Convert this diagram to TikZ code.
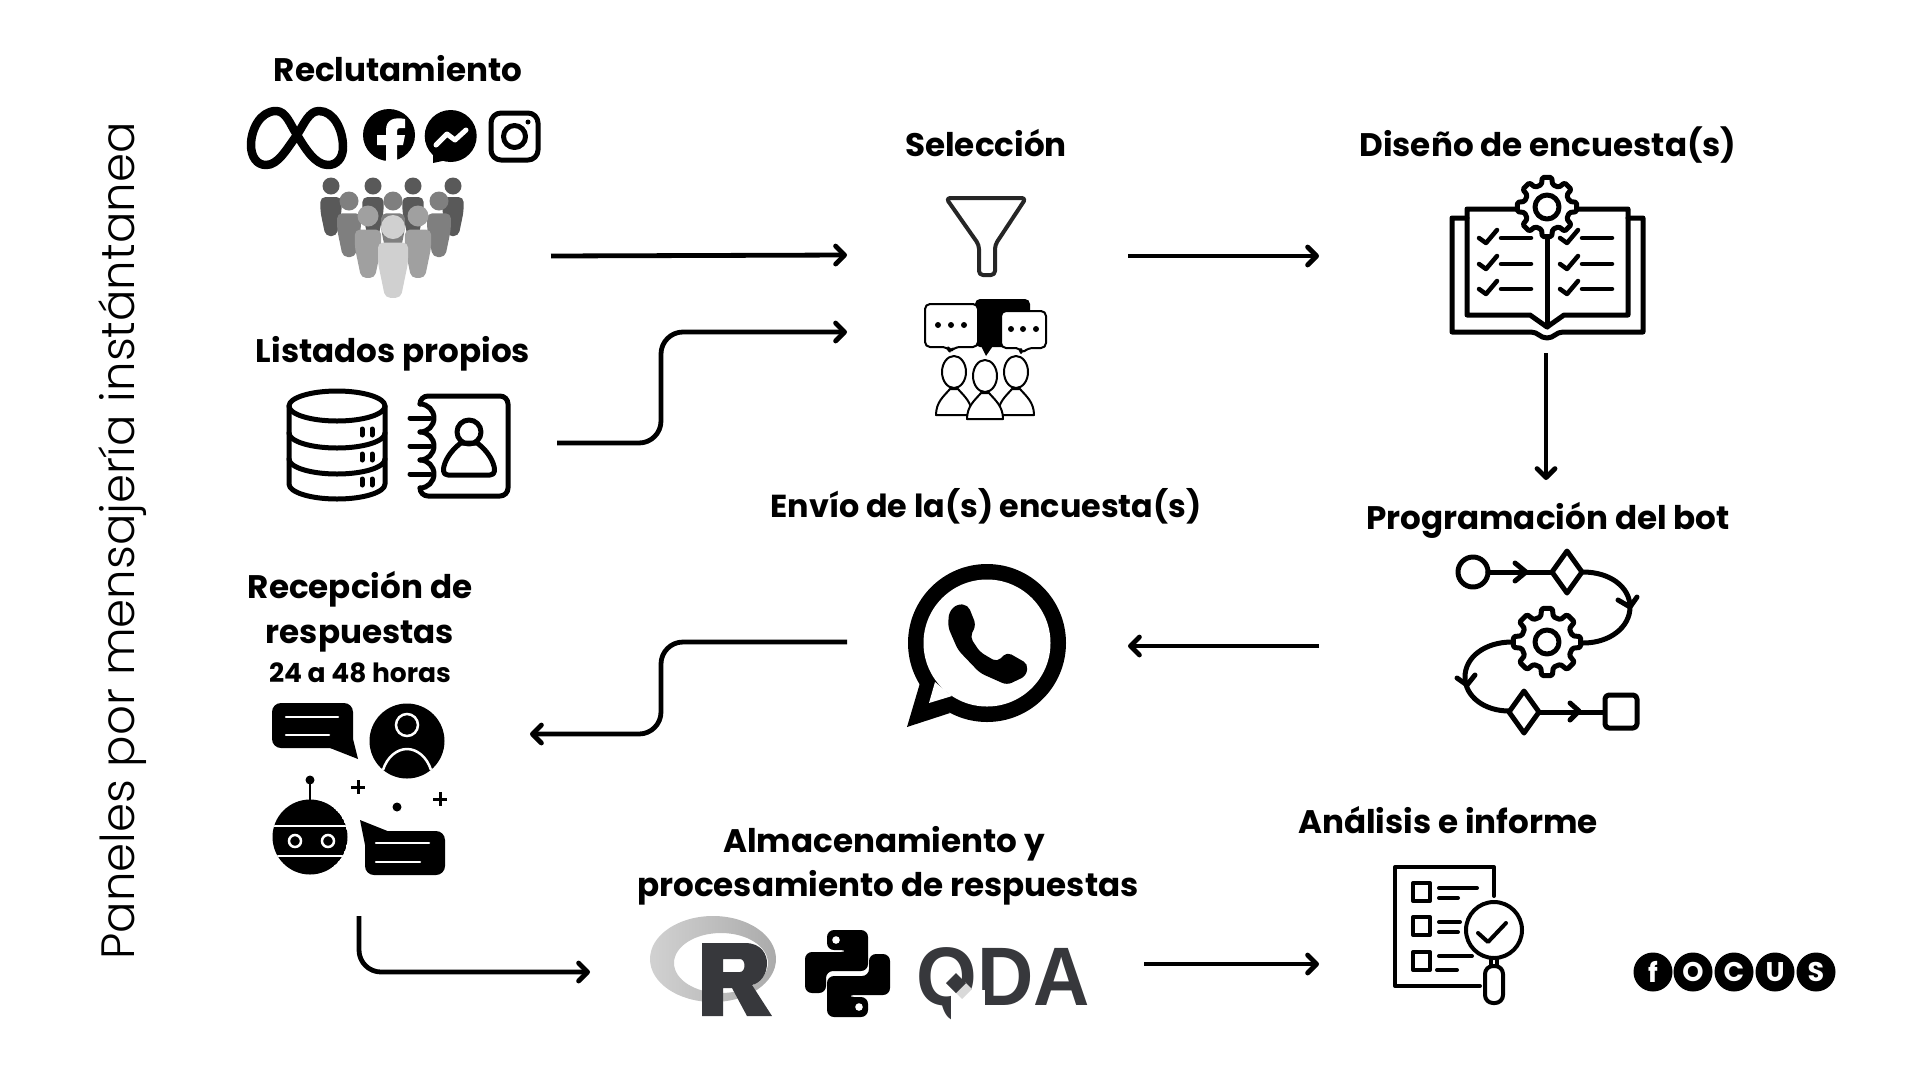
\documentclass[tikz,border=0pt]{standalone}
\usepackage{fontspec}
\setmainfont{Poppins}
\newfontfamily\lightfont{Poppins Light}
\newfontfamily\logofont[FakeStretch=0.94]{Liberation Sans}
\usetikzlibrary{arrows.meta}

\tikzstyle{heading} = [anchor=base, inner sep=0pt, font=\bfseries\fontsize{32.6}{32.6}\selectfont]
\tikzstyle{subheading} = [anchor=base, inner sep=0pt, font=\bfseries\fontsize{26.5}{26.5}\selectfont]
\tikzstyle{flowarrow} = [line width=4.8pt,->,>={Straight Barb[length=9pt,width=18pt,round]}]
\tikzstyle{icon} = [line width=5pt, draw=black, line join=round, line cap=round]
\tikzstyle{thinicon} = [line width=2pt, draw=black, line join=round, fill=white]
\tikzstyle{whiteline} = [line width=2.5pt, draw=white, line cap=round]
\tikzstyle{focusdot} = [circle, fill=black, text=white, minimum size=39pt, inner sep=0pt, font=\bfseries\fontsize{27}{27}\selectfont]

\definecolor{peopleA}{HTML}{595959}
\definecolor{peopleB}{HTML}{7F7F7F}
\definecolor{peopleC}{HTML}{A0A0A0}
\definecolor{peopleD}{HTML}{D0D0D0}
\definecolor{logodark}{HTML}{37383C}

% x, y, radius of head, colour
\newcommand{\onePerson}[4]{
  \begin{scope}[shift={(#1,#2)},scale=#3]
    \fill[#4] (0,0) circle[radius=1];
    \fill[#4,rounded corners=5pt] (-1.25,1.3) -- (1.25,1.3) -- (1.25,3) -- (0.65,5.9) -- (-0.65,5.9) -- (-1.25,3) -- cycle;
  \end{scope}
}
% x, y, outer radius, root radius, hole radius
\newcommand{\gearIcon}[5]{
  \begin{scope}[shift={(#1,#2)}]
    \draw[icon,fill=white,rounded corners=1.5pt] (-14:#4) \foreach \a in {0,45,...,315}{ -- (\a-14:#4) -- (\a-9:#3) -- (\a+9:#3) -- (\a+14:#4)} -- cycle;
    \draw[icon] (0,0) circle[radius=#5];
  \end{scope}
}

\begin{document}
\begin{tikzpicture}[x=1pt,y=-1pt]
  \useasboundingbox (0,0) rectangle (1920,1080);

  % titles
  \node (reclutamiento) [heading] at (398,81) {Reclutamiento};
  \node (listados) [heading] at (393,362) {Listados propios};
  \node (seleccion) [heading] at (986,156) {Selección};
  \node (diseno) [heading] at (1548,156) {Diseño de encuesta(s)};
  \node (programacion) [heading] at (1548,529) {Programación del bot};
  \node (envio) [heading,font=\bfseries\fontsize{31.8}{31.8}\selectfont] at (986,517) {Envío de la(s) encuesta(s)};
  \node (recepcionA) [heading] at (360,598) {Recepción de};
  \node (recepcionB) [heading] at (360,643) {respuestas};
  \node (plazo) [subheading] at (360,682) {24 a 48 horas};
  \node (almacenA) [heading] at (884,852) {Almacenamiento y};
  \node (almacenB) [heading] at (888,896) {procesamiento de respuestas};
  \node (analisis) [heading] at (1448,833) {Análisis e informe};
  \node (paneles) [anchor=base, rotate=90, inner sep=0pt, font=\lightfont\fontsize{46.7}{46.7}\selectfont] at (134,541) {Paneles por mensajería instántanea};

  % connector ends
  \coordinate (recOut) at (551,256);
  \coordinate (selInA) at (847,255);
  \coordinate (listOut) at (557,443);
  \coordinate (selInB) at (847,332);
  \coordinate (bendList) at (661,390);
  \coordinate (selOut) at (1128,256);
  \coordinate (disIn) at (1319,256);
  \coordinate (disOut) at (1546,353);
  \coordinate (botIn) at (1546,480);
  \coordinate (botOut) at (1319,646);
  \coordinate (envIn) at (1128,646);
  \coordinate (envOut) at (847,642);
  \coordinate (bendEnv) at (661,690);
  \coordinate (respIn) at (530,734);
  \coordinate (respOut) at (359,916);
  \coordinate (almIn) at (590,972);
  \coordinate (almOut) at (1144,964);
  \coordinate (infIn) at (1319,964);

  \draw [flowarrow] (recOut) -- (selInA);
  \draw [flowarrow,rounded corners=22pt] (listOut) -| (bendList) |- (selInB);
  \draw [flowarrow] (selOut) -- (disIn);
  \draw [flowarrow] (disOut) -- (botIn);
  \draw [flowarrow] (botOut) -- (envIn);
  \draw [flowarrow,rounded corners=22pt] (envOut) -| (bendEnv) |- (respIn);
  \draw [flowarrow,rounded corners=22pt] (respOut) |- (almIn);
  \draw [flowarrow] (almOut) -- (infIn);

  % meta, facebook, messenger, instagram
  \draw[icon,line width=8.5pt] (276,111) .. controls (260,111) and (251,130) .. (251,145) .. controls (251,157) and (257,165) .. (266,165) .. controls (278,165) and (286,150) .. (297,135) .. controls (304,124) and (309,111) .. (319,111) .. controls (334,111) and (343,130) .. (343,147) .. controls (343,158) and (337,165) .. (328,165) .. controls (315,165) and (305,148) .. (297,135) .. controls (290,124) and (286,111) .. (276,111) -- cycle;
  \fill (389,135) circle[radius=26];
  \fill[white] (386,135) -- (377,135) -- (377,145) -- (386,145) -- (386,161) -- (397,161) -- (397,145) -- (403,145) -- (405,135) -- (397,135) -- (397,131) .. controls (397,129) and (398,128) .. (400,128) -- (405,128) -- (405,119) .. controls (395,117) and (386,119) .. (386,130) -- cycle;
  \fill (450.7,136) circle[radius=26];
  \fill (433,163) -- (433,150) -- (447,160) -- cycle;
  \draw[whiteline,line width=5pt,line join=round] (436,145) -- (447,134) -- (455,140) -- (466,130);
  \draw[icon,rounded corners=10pt] (491,113) rectangle (538,160);
  \draw[icon] (514.5,136.5) circle[radius=11];
  \fill (528,122) circle[radius=2.5];

  % people
  \foreach \x in {331,373,413,453} {\onePerson{\x}{186}{8.5}{peopleA}}
  \foreach \x in {349,393,439} {\onePerson{\x}{201}{9.5}{peopleB}}
  \foreach \x in {368,418} {\onePerson{\x}{216}{10.5}{peopleC}}
  \onePerson{393}{227}{12}{peopleD}

  % database
  \draw[icon] (337,406) ellipse[x radius=48,y radius=15];
  \draw[icon] (289,406) -- (289,484) arc[start angle=180,end angle=0,x radius=48,y radius=15] -- (385,406);
  \foreach \y in {433,459} {\draw[icon] (289,\y) arc[start angle=180,end angle=0,x radius=48,y radius=15];}
  \foreach \y in {432,457,482} {
    \draw[icon] (362,\y-3) -- (362,\y+3);
    \draw[icon] (372,\y-3) -- (372,\y+3);
  }

  % address book
  \draw[icon,rounded corners=8pt] (420,404) -- (420,396) -- (508,396) -- (508,496) -- (420,496) -- (420,488);
  \foreach \y in {404,432,460} {\draw[icon] (420,\y) arc[start angle=-90,end angle=90,radius=14];}
  \foreach \y in {418,446,474} {\draw[icon] (410,\y) -- (430,\y);}
  \draw[icon] (469,432) circle[radius=12];
  \draw[icon] (448,475) -- (490,475) .. controls (496,475) and (495,468) .. (493,463) .. controls (490,455) and (483,447) .. (477,443) -- (461,443) .. controls (455,447) and (448,455) .. (445,463) .. controls (443,468) and (442,475) .. (448,475) -- cycle;

  % funnel
  \draw[icon,line width=4pt,draw=black!85,rounded corners=4pt] (946,198) -- (1026,198) -- (995,245) -- (995,275) -- (979,275) -- (979,245) -- cycle;

  % bubbles and persons
  \fill[rounded corners=5pt] (975,299) -- (1030,299) -- (1030,347) -- (975,347) -- cycle;
  \fill (978,340) -- (997,340) -- (986,356) -- cycle;
  \draw[thinicon,rounded corners=5pt] (925,304) -- (978,304) -- (978,347) -- (955,347) -- (950,352) -- (948,347) -- (925,347) -- cycle;
  \draw[thinicon,rounded corners=5pt] (1001,311) -- (1046,311) -- (1046,348) -- (1028,348) -- (1021,354) -- (1021,348) -- (1001,348) -- cycle;
  \foreach \x in {938,951,964} {\fill (\x,325) circle[radius=3];}
  \foreach \x in {1011,1023,1036} {\fill (\x,329) circle[radius=3];}
  \foreach \x/\y in {954/372,1016/372,985/376} {
    \begin{scope}[shift={(\x,\y)}]
      \draw[thinicon] (-18,43) .. controls (-18,30) and (-10,24) .. (-4,17) -- (4,17) .. controls (10,24) and (18,30) .. (18,43) -- cycle;
      \draw[thinicon] (0,0) ellipse[x radius=12,y radius=16];
    \end{scope}
  }

  % book
  \draw[icon] (1467,218) -- (1452,218) -- (1452,332) -- (1531,332) .. controls (1538,332) and (1540,338) .. (1547,338) .. controls (1554,338) and (1556,332) .. (1563,332) -- (1643,332) -- (1643,218) -- (1628,218);
  \draw[icon] (1467,209) -- (1467,315) -- (1530,315) -- (1547,327) -- (1564,315) -- (1628,315) -- (1628,209) -- cycle;
  \draw[icon] (1547,230) -- (1547,327);
  \foreach \x in {0,81} {
    \foreach \y in {238,264,289} {
      \draw[icon,line width=4.5pt] (1479+\x,\y) -- (1486+\x,\y+5) -- (1497+\x,\y-8);
      \draw[icon,line width=4.5pt] (1501+\x,\y) -- (1531+\x,\y);
    }
  }
  \gearIcon{1547}{207}{30}{23}{12}

  % flow
  \draw[icon] (1473,572) circle[radius=15];
  \draw[icon] (1488,572) -- (1552,572);
  \draw[icon] (1515,563) -- (1526,572) -- (1515,581);
  \draw[icon] (1567,551) -- (1582,572) -- (1567,593) -- (1552,572) -- cycle;
  \draw[icon] (1583,572) .. controls (1610,572) and (1630,587) .. (1630,607) .. controls (1630,627) and (1610,643) .. (1583,643);
  \draw[icon] (1618,600) -- (1630,607) -- (1637,597);
  \draw[icon] (1512,642) .. controls (1485,642) and (1465,657) .. (1465,677) .. controls (1465,697) and (1485,711) .. (1509,711);
  \draw[icon] (1457,678) -- (1467,685) -- (1475,675);
  \gearIcon{1547}{642}{34}{26}{12}
  \draw[icon] (1524,691) -- (1539,712) -- (1524,733) -- (1509,712) -- cycle;
  \draw[icon] (1539,712) -- (1604,712);
  \draw[icon] (1570,703) -- (1579,711) -- (1570,720);
  \draw[icon,rounded corners=4pt] (1605,695) rectangle (1637,728);

  % whatsapp
  \fill (987,643) circle[radius=79];
  \fill (920,683) -- (907,727) -- (950,713) -- cycle;
  \fill[white] (987,643) circle[radius=63.5];
  \fill[white] (935,682) -- (929,703) -- (952,696) -- cycle;
  \fill[rounded corners=5pt] (948,627) -- (949,612) -- (957,604) -- (968,605) -- (976,625) -- (970,637) -- (980,652) -- (997,662) -- (1007,652) -- (1028,664) -- (1026,676) -- (1007,685) -- (980,673) -- (958,650) -- cycle;

  % reception
  \fill[rounded corners=9pt] (272,703) -- (353,703) -- (353,748) -- (272,748) -- cycle;
  \fill (330,748) -- (358,759) -- (352,735) -- cycle;
  \draw[whiteline] (286,717) -- (338,717);
  \draw[whiteline] (286,735) -- (329,735);
  \fill (407,741) circle[radius=37.5];
  \draw[whiteline,line cap=butt] (407,725) circle[radius=11];
  \draw[whiteline,line cap=butt] (383,770) .. controls (387,757) and (397,749) .. (407,749) .. controls (417,749) and (427,757) .. (431,770);
  \fill (310,780) circle[radius=4.5];
  \draw[line width=2.5pt] (310,783) -- (310,800);
  \begin{scope}
    \clip (310,837) circle[radius=37.5];
    \fill (310,837) circle[radius=37.5];
    \draw[line width=2pt,draw=white] (270,826) -- (350,826);
    \draw[line width=2pt,draw=white] (270,856) -- (350,856);
  \end{scope}
  \draw[whiteline] (295,841) circle[radius=6];
  \draw[whiteline] (328,841) circle[radius=6];
  \draw[line width=3pt] (351,787) -- (365,787);
  \draw[line width=3pt] (358,780) -- (358,794);
  \draw[line width=3pt] (433,799) -- (447,799);
  \draw[line width=3pt] (440,792) -- (440,806);
  \fill (397,807) circle[radius=4.5];
  \fill[rounded corners=9pt] (365,831) -- (445,831) -- (445,875) -- (365,875) -- cycle;
  \fill (360,820) -- (390,832) -- (366,850) -- cycle;
  \draw[whiteline] (376,843) -- (429,843);
  \draw[whiteline] (376,862) -- (420,862);

  % r logo
  \path[even odd rule,left color=black!18,right color=black!33] (713,959) ellipse[x radius=63,y radius=43] (721,963) ellipse[x radius=47,y radius=30];
  \fill[logodark,even odd rule] (702,943) -- (745,943) .. controls (762,943) and (767,955) .. (767,963) .. controls (767,975) and (760,983) .. (752,985) -- (772,1016) -- (747,1016) -- (732,988) -- (723,988) -- (723,1016) -- (702,1016) -- cycle (723,959) -- (740,959) .. controls (746,959) and (746,972) .. (740,972) -- (723,972) -- cycle;

  % python
  \foreach \ang in {0,180} {
    \begin{scope}[rotate around={\ang:(847.5,973.5)}]
      \fill[rounded corners=7pt] (827,950) -- (827,930) -- (868,930) -- (868,971) -- (826,971) -- (826,993) -- (805,993) -- (805,952) -- (848,952) -- (848,950) -- cycle;
      \fill[white] (836,940) circle[radius=3.8];
    \end{scope}
  }

  % qda
  \node (qda) [anchor=base, inner sep=0pt, text=logodark, font=\logofont\bfseries\fontsize{83}{83}\selectfont] at (1003.5,1005) {QDA};
  \fill[white] (951,990) rectangle (985,1024);
  \draw[line width=14pt,draw=black!15] (960,987) -- (967,994);
  \fill[logodark] (956,973) -- (966,983) -- (956,993) -- (946,983) -- cycle;

  % report
  \draw[icon,line width=4pt] (1494,896) -- (1494,867) -- (1395,867) -- (1395,986) -- (1480,986);
  \foreach \y in {883,917,952} {\draw[icon,line width=4pt] (1413,\y) rectangle (1430,\y+18);}
  \draw[icon,line width=4pt] (1439,888) -- (1477,888) (1439,898) -- (1458,898) (1439,922) -- (1460,922) (1439,932) -- (1458,932) (1439,956) -- (1472,956) (1437,970) -- (1457,970);
  \draw[icon,line width=4pt,fill=white] (1494,930) circle[radius=28];
  \draw[icon,line width=4pt] (1478,933) -- (1488,942) -- (1506,923);
  \draw[icon,line width=4pt] (1491,958) -- (1491,966) (1497,958) -- (1497,966);
  \draw[icon,line width=4pt,rounded corners=8pt] (1485,966) rectangle (1503,1003);

  % focus logo
  \foreach \name/\x/\letter in {focusF/1653/f,focusO/1693/O,focusC/1734/C,focusU/1775/U,focusS/1816/S} {
    \node (\name) [focusdot] at (\x,972) {\letter};
  }
\end{tikzpicture}
\end{document}
